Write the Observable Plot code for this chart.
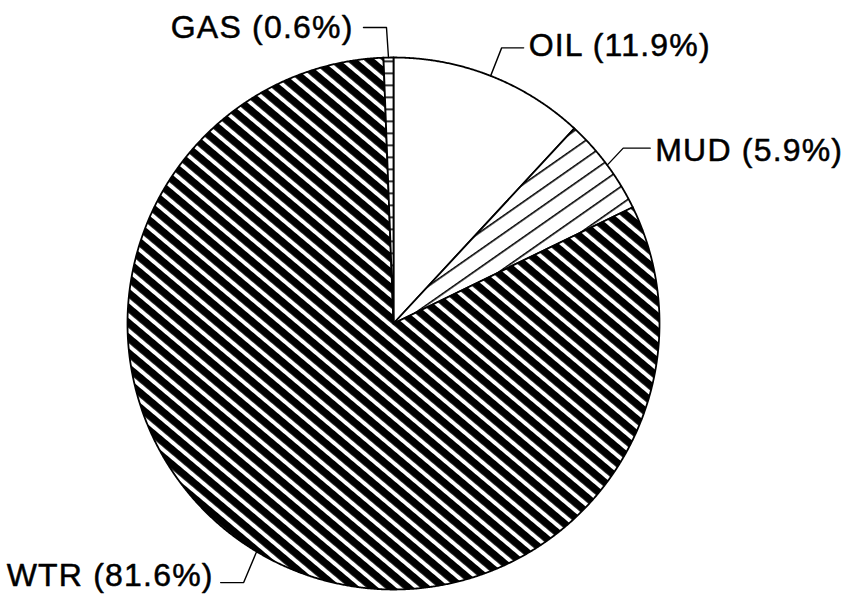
<!DOCTYPE html>
<html><head><meta charset="utf-8">
<script src="https://cdn.jsdelivr.net/npm/d3@7"></script>
<script src="https://cdn.jsdelivr.net/npm/@observablehq/plot@0.6"></script>
<style>html,body{margin:0;padding:0;background:#fff;} svg text{letter-spacing:1.2px;}</style>
</head><body><div id="chart"></div>
<script>
// ---- data ----
const categories = ["OIL", "MUD", "WTR", "GAS"];
const shares = [11.9, 5.9, 81.6, 0.6];
const labels = ["OIL (11.9%)", "MUD (5.9%)", "WTR (81.6%)", "GAS (0.6%)"];

// ---- layout ----
const W = 846, H = 613, CX = 393, CY = 323, R = 266;
const fills = {OIL: "#ffffff", MUD: "url(#hatchMud)", WTR: "url(#hatchWtr)", GAS: "url(#hatchGas)"};
// pixel offsets (screen coords) from each slice's mid-arc point
const leaderLayout = {
  OIL: {elbow: [11, -28], end: [33, -28], anchor: "start", dx: 5, dy: -2},
  MUD: {elbow: [16, -17], end: [43, -17], anchor: "start", dx: 5, dy: 3},
  WTR: {elbow: [-13, 31], end: [-36, 31], anchor: "end", dx: -7, dy: -7},
  GAS: {elbow: [-2, -30], end: [-25, -30], anchor: "end", dx: -10, dy: 0}
};

const rows = categories.map((c, i) => ({category: c, share: shares[i], label: labels[i]}));
const arcs = d3.pie().sort(null).value(d => d.share)(rows);

const slicePts = arcs.map(a => {
  const pts = [{x: 0, y: 0}];
  const n = Math.max(2, Math.ceil((a.endAngle - a.startAngle) / 0.004));
  for (let k = 0; k <= n; k++) {
    const t = a.startAngle + (a.endAngle - a.startAngle) * k / n;
    pts.push({x: Math.sin(t), y: Math.cos(t)});
  }
  pts.push({x: 0, y: 0});
  return {category: a.data.category, pts};
});

const leaders = [], texts = [];
arcs.forEach(a => {
  const m = (a.startAngle + a.endAngle) / 2;
  const mx = Math.sin(m), my = Math.cos(m);
  const L = leaderLayout[a.data.category];
  const p = ([dx, dy]) => ({x: mx + dx / R, y: my - dy / R, category: a.data.category});
  leaders.push({...p([0, 0])}, p(L.elbow), p(L.end));
  texts.push({...p(L.end), label: a.data.label, L});
});

const marks = [];
slicePts.forEach(s => {
  marks.push(Plot.line(s.pts, {x: "x", y: "y", fill: fills[s.category], stroke: "black", strokeWidth: 1.8, strokeLinejoin: "round"}));
});
marks.push(Plot.line(leaders, {x: "x", y: "y", z: "category", stroke: "black", strokeWidth: 1.4}));
texts.forEach(t => {
  marks.push(Plot.text([t], {x: "x", y: "y", text: "label", textAnchor: t.L.anchor, dx: t.L.dx, dy: t.L.dy,
    fontSize: 32, fill: "black", stroke: "black", strokeWidth: 0.5,
    fontFamily: "'Liberation Sans', Arial, Helvetica, sans-serif"}));
});

const svg = Plot.plot({
  width: W, height: H, margin: 0,
  x: {domain: [-CX / R, (W - CX) / R], axis: null},
  y: {domain: [-(H - CY) / R, CY / R], axis: null},
  style: {background: "#fff"},
  marks
});

const defs = document.createElementNS("http://www.w3.org/2000/svg", "defs");
defs.innerHTML = `
<pattern id="hatchWtr" patternUnits="userSpaceOnUse" width="20" height="11.5" patternTransform="rotate(40)">
  <rect width="20" height="11.5" fill="#fff"/><rect width="20" height="7.5" fill="#000"/>
</pattern>
<pattern id="hatchMud" patternUnits="userSpaceOnUse" width="20" height="14.5" patternTransform="rotate(-35)">
  <rect width="20" height="14.5" fill="#fff"/><rect width="20" height="1.6" fill="#000"/>
</pattern>
<pattern id="hatchGas" patternUnits="userSpaceOnUse" width="20" height="12" >
  <rect width="20" height="12" fill="#fff"/><rect width="20" height="1.6" fill="#000"/>
</pattern>`;
svg.insertBefore(defs, svg.firstChild);
document.getElementById("chart").appendChild(svg);
</script>
</body></html>
